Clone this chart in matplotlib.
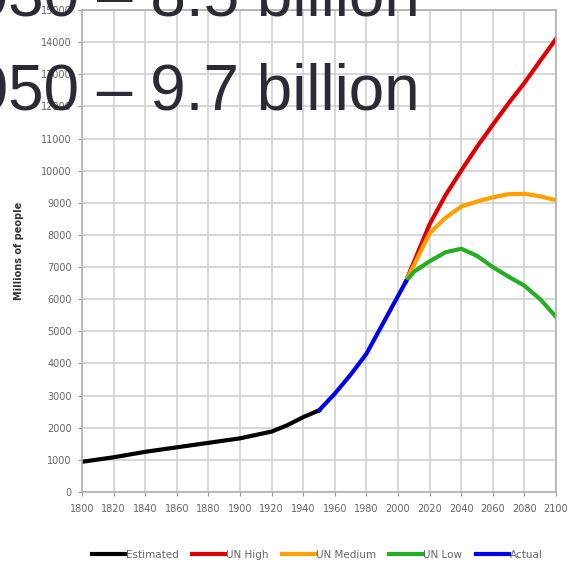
import matplotlib.pyplot as plt

# population in millions
est_years = [1800, 1820, 1840, 1860, 1880, 1900, 1920, 1930, 1940, 1950]
est_pop = [940, 1080, 1250, 1390, 1530, 1670, 1880, 2080, 2330, 2540]

act_years = [1950, 1960, 1970, 1980, 1990, 2000, 2005]
act_pop = [2540, 3060, 3650, 4300, 5200, 6100, 6550]

proj_years = [2005, 2010, 2020, 2030, 2040, 2050, 2060, 2070, 2080, 2090, 2100]
un_high = [6550, 7150, 8330, 9230, 10000, 10740, 11430, 12100, 12730, 13420, 14100]
un_medium = [6550, 7050, 8050, 8530, 8880, 9040, 9170, 9270, 9280, 9200, 9080]
un_low = [6550, 6850, 7180, 7460, 7570, 7350, 7000, 6700, 6420, 6000, 5450]

x_ticks = list(range(1800, 2101, 20))
y_ticks = list(range(0, 15001, 1000))

headline = ["2030 \u2013 8.5 billion", "2050 \u2013 9.7 billion"]

fig = plt.figure(figsize=(5.69, 5.63), dpi=100)
ax = fig.add_axes([82 / 569, 1 - 492 / 563, (556 - 82) / 569, (492 - 10) / 563])

lw = 3.0
ax.plot(est_years, est_pop, color='black', lw=lw, label='Estimated', solid_joinstyle='round')
ax.plot(proj_years, un_high, color='#e00000', lw=lw, label='UN High', solid_joinstyle='round')
ax.plot(proj_years, un_medium, color='#ffa000', lw=lw, label='UN Medium', solid_joinstyle='round')
ax.plot(proj_years, un_low, color='#22b022', lw=lw, label='UN Low', solid_joinstyle='round')
ax.plot(act_years, act_pop, color='#0000ee', lw=lw, label='Actual', solid_joinstyle='round')

ax.set_xlim(1800, 2100)
ax.set_ylim(0, 15000)
ax.set_xticks(x_ticks)
ax.set_yticks(y_ticks)
ax.grid(True, color='#cdcdcd', lw=1.1)
ax.set_axisbelow(True)
for s in ax.spines.values():
    s.set_color('#b0b0b0')
    s.set_linewidth(1.2)
ax.tick_params(direction='out', length=3, color='#999999', labelsize=7,
               labelcolor='#666666')
ax.tick_params(axis='x', pad=6)
ax.tick_params(axis='y', pad=4.3)
ax.set_ylabel('Millions of people', fontsize=7, fontweight='bold', color='#333333', labelpad=12)

fig.legend(loc='center', bbox_to_anchor=(317 / 569, 1 - 555 / 563), ncol=5, frameon=False,
           fontsize=7.5, labelcolor='#666666', handlelength=3.2, handletextpad=0.05,
           columnspacing=1.3)

# big slide text laid over the chart
fig.text(420 / 569, 1 - 15 / 563, headline[0], ha='right', va='baseline',
         fontsize=46, family='Liberation Sans', color='#2b2b36')
fig.text(420 / 569, 1 - 109 / 563, headline[1], ha='right', va='baseline',
         fontsize=46, family='Liberation Sans', color='#2b2b36')

fig.savefig('out.png', dpi=100)
